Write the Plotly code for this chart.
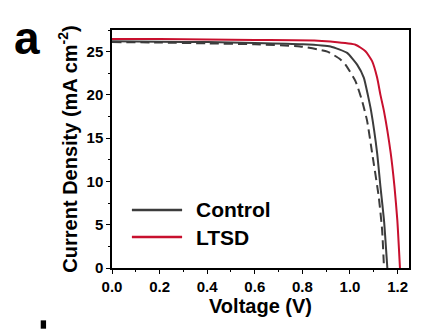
import plotly.graph_objects as go

# Control (solid)
ctrl_v = [0.0, 0.2, 0.4, 0.6, 0.8, 0.918, 0.988, 1.03, 1.058, 1.075, 1.089, 1.114, 1.128, 1.143, 1.157]
ctrl_j = [26.2, 26.15, 26.1, 26.0, 25.85, 25.6, 24.85, 23.5, 22.0, 20.0, 18.1, 13.3, 9.4, 5.5, 0.0]
# Control (dashed)
ctrld_v = [0.0, 0.2, 0.4, 0.6, 0.79, 0.905, 0.96, 0.981, 1.023, 1.051, 1.072, 1.093, 1.121, 1.135, 1.143]
ctrld_j = [26.1, 26.05, 25.95, 25.85, 25.6, 25.0, 24.1, 23.5, 21.6, 19.3, 17.0, 13.3, 8.2, 4.4, 0.0]
# LTSD
ltsd_v = [0.0, 0.2, 0.4, 0.6, 0.85, 0.918, 1.023, 1.065, 1.093, 1.114, 1.128, 1.143, 1.171, 1.187, 1.199, 1.21]
ltsd_j = [26.45, 26.45, 26.4, 26.35, 26.3, 26.16, 25.8, 25.05, 23.9, 22.0, 20.0, 18.1, 13.3, 9.4, 5.5, 0.0]

legend_names = ["Control", "LTSD"]

GRAY = "#3c3c3c"
RED = "#c8102e"
FONT = "Liberation Sans, Arial, sans-serif"

fig = go.Figure()
fig.add_trace(go.Scatter(x=ctrld_v, y=ctrld_j, mode="lines", showlegend=False,
                         line=dict(color=GRAY, width=2, dash="9px,5px", shape="spline", smoothing=0.5)))
fig.add_trace(go.Scatter(x=ctrl_v, y=ctrl_j, mode="lines", name=legend_names[0], showlegend=False,
                         line=dict(color=GRAY, width=2, shape="spline", smoothing=0.5)))
fig.add_trace(go.Scatter(x=ltsd_v, y=ltsd_j, mode="lines", name=legend_names[1], showlegend=False,
                         line=dict(color=RED, width=2, shape="spline", smoothing=0.5)))

axis_common = dict(showline=True, linecolor="black", linewidth=1.5, mirror=True,
                   ticks="outside", ticklen=4, tickwidth=1, tickcolor="black",
                   showgrid=False, zeroline=False,
                   tickfont=dict(family=FONT, size=15, color="black", weight="bold"),
                   minor=dict(ticks="outside", ticklen=2, tickcolor="black"))

fig.update_xaxes(range=[0, 1.248], dtick=0.2, tick0=0, tickformat=".1f",
                 title=dict(text="<b>Voltage (V)</b>", font=dict(family=FONT, size=20, color="black"), standoff=4),
                 **axis_common)
fig.update_xaxes(minor_dtick=0.1)
fig.update_yaxes(range=[0, 27.5], dtick=5, tick0=0,
                 title=dict(text="<b>Current Density (mA cm<sup>-2</sup>)</b>",
                            font=dict(family=FONT, size=20, color="black"), standoff=4),
                 **axis_common)
fig.update_yaxes(minor_dtick=2.5)

# manual legend
for name, color, yp in [(legend_names[0], GRAY, 0.244), (legend_names[1], RED, 0.130)]:
    fig.add_shape(type="line", xref="paper", yref="paper", x0=0.067, x1=0.236, y0=yp, y1=yp,
                  line=dict(color=color, width=2.5))
    fig.add_annotation(text="<b>" + name + "</b>", xref="paper", yref="paper", x=0.275, y=yp,
                       xanchor="left", yanchor="middle", showarrow=False,
                       font=dict(family=FONT, size=21, color="black"))

fig.add_annotation(text="<b>a</b>", xref="paper", yref="paper", x=-0.285, y=0.965,
                   xanchor="center", yanchor="middle", showarrow=False,
                   font=dict(family=FONT, size=46, color="black"))
fig.add_shape(type="rect", xref="paper", yref="paper", x0=-0.24, x1=-0.222, y0=-0.255, y1=-0.22,
              fillcolor="black", line=dict(width=0))

fig.update_layout(width=427, height=329, margin=dict(l=112, r=18, t=30, b=61),
                  plot_bgcolor="white", paper_bgcolor="white", showlegend=False)
fig.write_html("out.html")
